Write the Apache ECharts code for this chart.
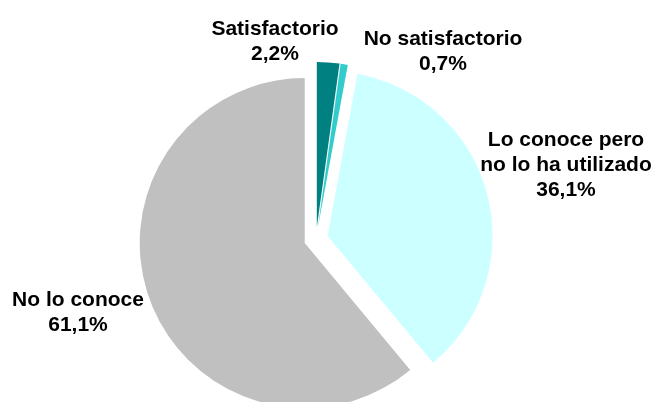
<!DOCTYPE html>
<html>
<head>
<meta charset="utf-8">
<script src="https://cdn.jsdelivr.net/npm/echarts@6/dist/echarts.min.js"></script>
<style>
  html, body { margin: 0; padding: 0; background: #fff; }
  #chart { width: 655px; height: 402px; }
</style>
</head>
<body>
<div id="chart"></div>
<script>
var categories = ['Satisfactorio', 'No satisfactorio', 'Lo conoce pero\nno lo ha utilizado', 'No lo conoce'];
var values = [2.2, 0.7, 36.1, 61.1];
var colors = ['#008080', '#33CCCC', '#CCFFFF', '#C0C0C0'];
// centre of each label block
var labelPos = [[275, 42], [443, 52], [566, 165], [78, 313]];

function labelText(i) {
  return categories[i] + '\n' + String(values[i]).replace('.', ',') + '%';
}

var myChart = echarts.init(document.getElementById('chart'));
var option = {
  animation: false,
  backgroundColor: '#fff',
  graphic: labelPos.map(function (p, i) {
    return {
      type: 'text',
      x: p[0],
      y: p[1],
      z: 100,
      style: {
        text: labelText(i),
        fontFamily: 'Liberation Sans, Arial, sans-serif',
        fontWeight: 'bold',
        fontSize: 21,
        lineHeight: 25,
        fill: '#000',
        align: 'center',
        verticalAlign: 'middle'
      }
    };
  }),
  series: [
    {
      type: 'pie',
      center: [316, 239],
      radius: [0, 165],
      startAngle: 90,
      clockwise: true,
      selectedMode: 'multiple',
      selectedOffset: 12,
      emphasis: { disabled: true },
      label: { show: false },
      labelLine: { show: false },
      data: categories.map(function (c, i) {
        return { name: c, value: values[i], selected: true, itemStyle: { color: colors[i] } };
      })
    }
  ]
};
myChart.setOption(option);
</script>
</body>
</html>
